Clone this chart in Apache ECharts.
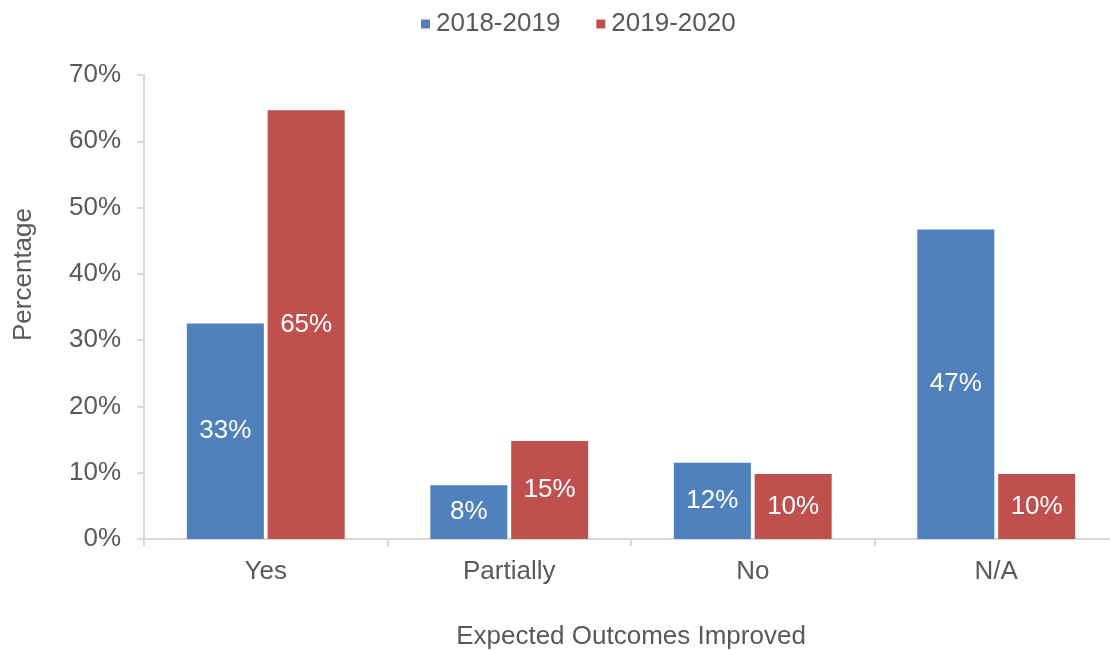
<!DOCTYPE html>
<html><head><meta charset="utf-8">
<script src="https://cdn.jsdelivr.net/npm/echarts@6/dist/echarts.min.js"></script>
<style>html,body{margin:0;padding:0;background:#fff}#c{width:1110px;height:650px}</style>
</head><body><div id="c"></div>
<script>
var categories = ['Yes', 'Partially', 'No', 'N/A'];
var series2018 = [32.5, 8.1, 11.5, 46.7];
var series2019 = [64.7, 14.8, 9.8, 9.8];
var seriesNames = ['2018-2019', '2019-2020'];
var yTicks = [0, 10, 20, 30, 40, 50, 60, 70];

var font = '"Liberation Sans", Arial, sans-serif';
var txt = '#595959';
var fs = 26;
var chart = echarts.init(document.getElementById('c'));
var lbl = {show: true, position: 'inside', color: '#fff', fontSize: fs, fontFamily: font,
  formatter: function(p){ return Math.round(p.value) + '%'; }};
chart.setOption({
  animation: false,
  legend: {top: 6, left: 416, itemWidth: 9, itemHeight: 9, icon: 'rect', itemGap: 36,
    textStyle: {fontSize: fs, color: txt, fontFamily: font, padding: [0, 0, 0, 1]}, data: seriesNames},
  grid: {left: 144, top: 75, width: 974, height: 464, outerBoundsMode: 'none', containLabel: false},
  xAxis: {type: 'category', data: categories,
    name: 'Expected Outcomes Improved', nameLocation: 'middle', nameGap: 85,
    nameTextStyle: {fontSize: fs, color: txt, fontFamily: font},
    axisLine: {lineStyle: {color: '#d9d9d9', width: 2}},
    axisTick: {show: true, length: 7, lineStyle: {color: '#d9d9d9', width: 2}},
    axisLabel: {fontSize: fs, color: txt, fontFamily: font, margin: 20}},
  yAxis: {type: 'value', min: yTicks[0], max: yTicks[yTicks.length-1], interval: 10,
    axisLine: {show: true, lineStyle: {color: '#d9d9d9', width: 2}},
    axisTick: {show: true, length: 7, lineStyle: {color: '#d9d9d9', width: 2}},
    splitLine: {show: false},
    axisLabel: {fontSize: fs, color: txt, fontFamily: font, margin: 23, formatter: '{value}%'}},
  graphic: [{type: 'text', left: 11, top: 208, rotation: Math.PI/2,
    style: {text: 'Percentage', fill: txt, font: fs + 'px ' + font}}],
  series: [
    {name: seriesNames[0], type: 'bar', data: series2018, barWidth: 77, barGap: '5%',
      itemStyle: {color: '#4F81BD'}, label: lbl},
    {name: seriesNames[1], type: 'bar', data: series2019, barWidth: 77,
      itemStyle: {color: '#C0504D'}, label: lbl}
  ]
});
</script></body></html>
